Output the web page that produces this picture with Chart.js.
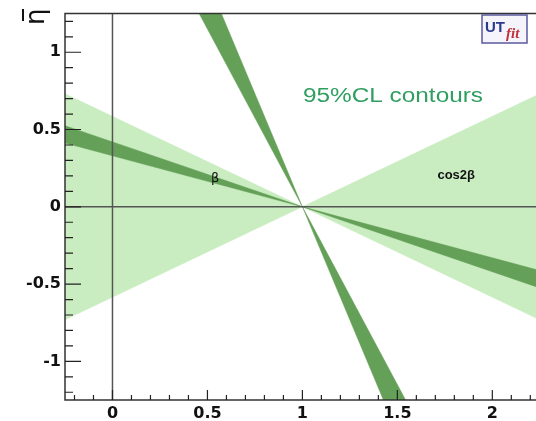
<!DOCTYPE html>
<html>
<head>
<meta charset="utf-8">
<script src="https://cdn.jsdelivr.net/npm/chart.js@4/dist/chart.umd.min.js"></script>
<style>
  html, body { margin: 0; padding: 0; background: #fff; }
</style>
</head>
<body>
<canvas id="my-chart" width="536" height="421"></canvas>
<script>
// axis ranges (rho-bar, eta-bar)
const xLimits = [-0.25, 2.23];
const yLimits = [-1.25, 1.25];
const xTicks = [0, 0.5, 1, 1.5, 2];
const yTicks = [-1, -0.5, 0, 0.5, 1];

// all bands cross at this point
const apex = [1, 0];
// edge slopes of each band (deta / drho)
const cos2bSlopes = [0.585, -0.585];
const betaSlopes = [-0.33, -0.42];
const betaSteepSlopes = [-2.3, -2.93];

const lightGreen = '#c9edc0';
const darkGreen = '#64a058';

// bow-tie polygon between two lines through the apex, long enough to be clipped
const wedge = (slopes) => {
  const L = 4;
  const [x0, y0] = apex;
  return [
    {x: x0, y: y0},
    {x: x0 + L, y: y0 + slopes[0] * L},
    {x: x0 + L, y: y0 + slopes[1] * L},
    {x: x0, y: y0},
    {x: x0 - L, y: y0 - slopes[0] * L},
    {x: x0 - L, y: y0 - slopes[1] * L},
    {x: x0, y: y0},
  ];
};

const band = (label, slopes, color, order) => ({
  label,
  order,
  data: wedge(slopes),
  showLine: true,
  fill: 'shape',
  backgroundColor: color,
  borderColor: color,
  borderWidth: 0.5,
  pointRadius: 0,
  tension: 0,
});

const frame = {
  id: 'frame',
  afterDatasetsDraw(chart) {
    const {ctx, chartArea: a, scales: {x, y}} = chart;
    ctx.save();

    // zero lines
    ctx.strokeStyle = '#555';
    ctx.lineWidth = 1.5;
    ctx.beginPath();
    ctx.moveTo(x.getPixelForValue(0), a.top);
    ctx.lineTo(x.getPixelForValue(0), a.bottom);
    ctx.moveTo(a.left, y.getPixelForValue(0));
    ctx.lineTo(a.right, y.getPixelForValue(0));
    ctx.stroke();

    // frame: top, left, bottom
    ctx.strokeStyle = '#333';
    ctx.lineWidth = 1.5;
    ctx.beginPath();
    ctx.moveTo(a.right, a.top);
    ctx.lineTo(a.left, a.top);
    ctx.lineTo(a.left, a.bottom);
    ctx.lineTo(a.right, a.bottom);
    ctx.stroke();

    // inside ticks, every 0.1, longer on multiples of 0.5
    ctx.strokeStyle = '#222';
    ctx.lineWidth = 1.2;
    ctx.beginPath();
    for (let i = -2; i <= 22; i++) {
      const px = x.getPixelForValue(i / 10);
      const len = i % 5 === 0 ? 10 : 5;
      ctx.moveTo(px, a.bottom);
      ctx.lineTo(px, a.bottom - len);
    }
    for (let i = -12; i <= 12; i++) {
      const py = y.getPixelForValue(i / 10);
      const len = i % 5 === 0 ? 16 : 8;
      ctx.moveTo(a.left, py);
      ctx.lineTo(a.left + len, py);
    }
    ctx.stroke();

    // axis title eta-bar, rotated like the original
    ctx.save();
    ctx.fillStyle = '#111';
    ctx.font = '26px "DejaVu Sans"';
    ctx.textAlign = 'left';
    ctx.textBaseline = 'alphabetic';
    ctx.translate(44, 25);
    ctx.rotate(-Math.PI / 2);
    ctx.fillText('η', 0, 0);
    ctx.restore();
    ctx.strokeStyle = '#111';
    ctx.lineWidth = 2;
    ctx.beginPath();
    ctx.moveTo(23, 9);
    ctx.lineTo(23, 21);
    ctx.stroke();

    // band labels
    ctx.fillStyle = '#111';
    ctx.textAlign = 'center';
    ctx.textBaseline = 'middle';
    ctx.font = '13px "DejaVu Sans"';
    ctx.fillText('β', x.getPixelForValue(0.54), y.getPixelForValue(0.18));
    ctx.font = 'bold 13px "Liberation Sans"';
    ctx.fillText('cos2β', x.getPixelForValue(1.81), y.getPixelForValue(0.2));

    // legend text, stretched like the original
    ctx.fillStyle = '#2f9e60';
    ctx.font = '20px "Liberation Sans"';
    ctx.textAlign = 'left';
    ctx.textBaseline = 'alphabetic';
    const txt = '95%CL contours';
    const w = ctx.measureText(txt).width;
    ctx.save();
    ctx.translate(303, 102);
    ctx.scale(180 / w, 1);
    ctx.fillText(txt, 0, 0);
    ctx.restore();

    // UTfit logo
    ctx.fillStyle = '#f4f4fa';
    ctx.fillRect(482, 15, 45, 28);
    ctx.strokeStyle = '#5a5aa0';
    ctx.lineWidth = 1.5;
    ctx.strokeRect(482, 15, 45, 28);
    ctx.fillStyle = '#2b3b8c';
    ctx.font = 'bold 15px "Liberation Sans"';
    ctx.fillText('UT', 485, 32);
    ctx.fillStyle = '#c0303c';
    ctx.font = 'italic bold 15px "Liberation Serif"';
    ctx.fillText('fit', 506, 38);

    ctx.restore();
  }
};

const tickFont = {family: 'DejaVu Sans', weight: 'bold', size: 16};

new Chart(document.getElementById('my-chart').getContext('2d'), {
  type: 'scatter',
  data: {
    datasets: [
      // lower order is drawn on top
      band('β', betaSlopes, darkGreen, 1),
      band('β (2)', betaSteepSlopes, darkGreen, 2),
      band('cos2β', cos2bSlopes, lightGreen, 3),
    ],
  },
  options: {
    responsive: false,
    animation: false,
    devicePixelRatio: 1,
    layout: {padding: {top: 10, right: 0, left: 0, bottom: 0}},
    plugins: {
      legend: {display: false},
      tooltip: {enabled: false},
    },
    scales: {
      x: {
        type: 'linear',
        min: xLimits[0],
        max: xLimits[1],
        afterBuildTicks: (s) => { s.ticks = xTicks.map(v => ({value: v})); },
        afterFit: (s) => { s.height = 21; },
        grid: {display: false, drawTicks: false},
        border: {display: false},
        ticks: {
          color: '#111',
          padding: 4,
          maxRotation: 0,
          font: tickFont,
          callback: (v) => `${v}`,
        },
      },
      y: {
        type: 'linear',
        min: yLimits[0],
        max: yLimits[1],
        afterBuildTicks: (s) => { s.ticks = yTicks.map(v => ({value: v})); },
        afterFit: (s) => { s.width = 65; },
        grid: {display: false, drawTicks: false},
        border: {display: false},
        ticks: {
          color: '#111',
          padding: 4,
          font: tickFont,
          callback: (v) => `${v}`,
        },
      },
    },
  },
  plugins: [frame],
});
</script>
</body>
</html>
